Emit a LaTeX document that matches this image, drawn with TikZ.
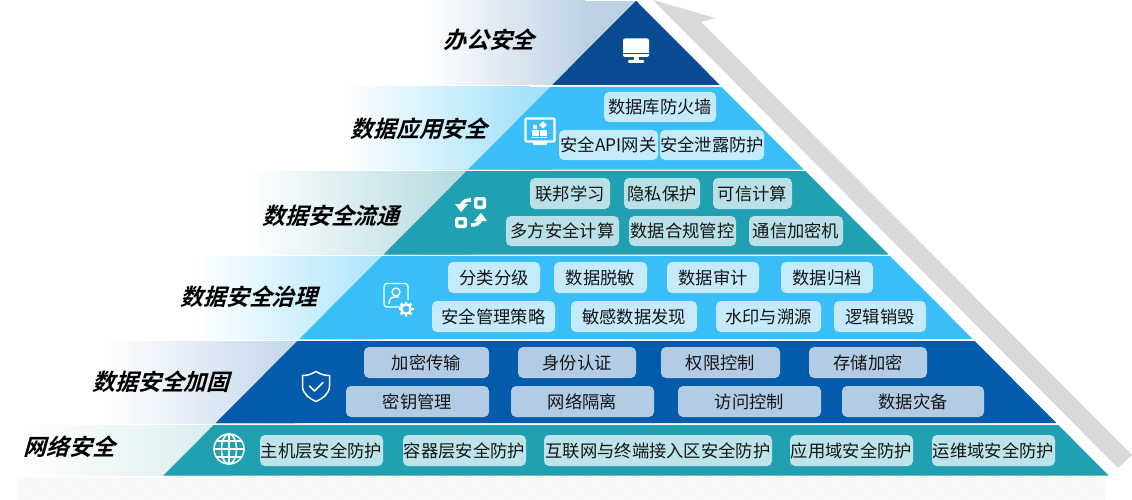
\documentclass[tikz,border=0pt]{standalone}
\usepackage{fontspec}
\setmainfont{Noto Sans CJK SC}
\newfontfamily\titlefont[FakeSlant=0.28,BoldFont={Noto Sans CJK SC Bold},BoldFeatures={FakeSlant=0.28}]{Noto Sans CJK SC}
\usetikzlibrary{patterns}
\definecolor{navy}{HTML}{0A4C92}
\definecolor{sky}{HTML}{3ABEF8}
\definecolor{teal1}{HTML}{20A0B0}
\definecolor{royal}{HTML}{045AAB}
\definecolor{chipsky}{HTML}{C4EAFC}
\definecolor{chipteal}{HTML}{B8E0E6}
\definecolor{chiproyal}{HTML}{B2CCE6}
\definecolor{chipbot}{HTML}{BDE4EA}
\definecolor{ink}{HTML}{151515}
\definecolor{fadeA}{HTML}{BFD2E4}
\definecolor{fadeB}{HTML}{A4E2FB}
\definecolor{fadeC}{HTML}{B3D9DE}
\definecolor{fadeD}{HTML}{B0E6FC}
\definecolor{fadeE}{HTML}{C4D6EA}
\definecolor{fadeF}{HTML}{D8ECEE}
\tikzset{
  chip/.style={rounded corners=5pt,inner sep=0pt,text=ink,font=\fontsize{17.3}{19}\selectfont,anchor=center},
  titletext/.style={inner sep=0pt,text=black,font=\titlefont\bfseries\fontsize{22.8}{24}\selectfont,anchor=center},
}
\newcommand{\chipbox}[7]{%
  \pgfmathsetmacro{\cx}{(#2+#3)/2}\pgfmathsetmacro{\cy}{(#4+#5)/2}%
  \pgfmathsetmacro{\cw}{#3-#2}\pgfmathsetmacro{\ch}{#5-#4}%
  \node[chip,fill=#7,minimum width=\cw pt,minimum height=\ch pt] (#1) at (\cx,\cy) {#6};}
\newcommand{\band}[6]{%
  \pgfmathsetmacro{\lt}{636-0.996*(#1-1)}\pgfmathsetmacro{\rt}{636+0.996*(#1-1)}%
  \pgfmathsetmacro{\lb}{636-0.996*(#2-1)}\pgfmathsetmacro{\rb}{636+0.996*(#2-1)}%
  \shade[left color=white,right color=#4] (#3,#1) rectangle (#6,#2);
  \fill[#4] (#6,#1) rectangle (\lt+2,#2);
  \fill[#5] (\lt,#1) -- (\rt,#1) -- (\rb,#2) -- (\lb,#2) -- cycle;}
\begin{document}
\begin{tikzpicture}[x=1pt,y=-1pt]
\useasboundingbox (0,0) rectangle (1132,500);
\fill[white] (0,0) rectangle (1132,500);
% bottom strip
\fill[black!3] (17,477) rectangle (1105,500);
\fill[pattern=north west lines,pattern color=white] (17,477) rectangle (1105,500);
% grey arrow
\fill[black!15] (653,0) -- (715,18) -- (701,22) -- (1132,455) -- (1118,468) -- cycle;
% bands
\band{1}{85}{425}{fadeA}{navy}{585}
\fill[navy] (636,1) -- (719.7,85) -- (552.3,85) -- cycle;
\band{87}{169.5}{345}{fadeB}{sky}{530}
\band{171}{254.5}{250}{fadeC}{teal1}{470}
\band{256}{339}{195}{fadeD}{sky}{375}
\band{341}{423}{105}{fadeE}{royal}{295}
\band{425}{475.5}{25}{fadeF}{teal1}{230}
% chips
\chipbox{c1}{604}{716}{92}{122}{数据库防火墙}{chipsky}
\chipbox{c2}{559}{658}{130}{160}{安全API网关}{chipsky}
\chipbox{c3}{660}{764}{130}{160}{安全泄露防护}{chipsky}
\chipbox{d1}{530}{610}{178}{209}{联邦学习}{chipteal}
\chipbox{d2}{624}{700}{178}{209}{隐私保护}{chipteal}
\chipbox{d3}{713}{792}{178}{209}{可信计算}{chipteal}
\chipbox{d4}{506}{619}{216}{246}{多方安全计算}{chipteal}
\chipbox{d5}{629}{736}{216}{246}{数据合规管控}{chipteal}
\chipbox{d6}{749}{843}{216}{246}{通信加密机}{chipteal}
\chipbox{e1}{448}{540}{262}{293}{分类分级}{chipsky}
\chipbox{e2}{554}{647}{262}{293}{数据脱敏}{chipsky}
\chipbox{e3}{667}{759}{262}{293}{数据审计}{chipsky}
\chipbox{e4}{781}{873}{262}{293}{数据归档}{chipsky}
\chipbox{e5}{432}{555}{301}{332}{安全管理策略}{chipsky}
\chipbox{e6}{571}{697}{301}{332}{敏感数据发现}{chipsky}
\chipbox{e7}{716}{821}{301}{332}{水印与溯源}{chipsky}
\chipbox{e8}{834}{926}{301}{332}{逻辑销毁}{chipsky}
\chipbox{f1}{364}{489}{347}{378}{加密传输}{chiproyal}
\chipbox{f2}{518}{636}{347}{378}{身份认证}{chiproyal}
\chipbox{f3}{661}{780}{347}{378}{权限控制}{chiproyal}
\chipbox{f4}{809}{927}{347}{378}{存储加密}{chiproyal}
\chipbox{f5}{346}{489}{386}{417}{密钥管理}{chiproyal}
\chipbox{f6}{511}{654}{386}{417}{网络隔离}{chiproyal}
\chipbox{f7}{678}{821}{386}{417}{访问控制}{chiproyal}
\chipbox{f8}{842}{984}{386}{417}{数据灾备}{chiproyal}
\chipbox{g1}{260}{383}{435}{466}{主机层安全防护}{chipbot}
\chipbox{g2}{403}{526}{435}{466}{容器层安全防护}{chipbot}
\chipbox{g3}{544}{772}{435}{466}{互联网与终端接入区安全防护}{chipbot}
\chipbox{g4}{790}{913}{435}{466}{应用域安全防护}{chipbot}
\chipbox{g5}{932}{1055}{435}{466}{运维域安全防护}{chipbot}
% titles
\node[titletext] (t1) at (489,40) {办公安全};
\node[titletext] (t2) at (419,129) {数据应用安全};
\node[titletext] (t3) at (331,216) {数据安全流通};
\node[titletext] (t4) at (249,297) {数据安全治理};
\node[titletext] (t5) at (161,382) {数据安全加固};
\node[titletext] (t6) at (69.5,447) {网络安全};
% icon: monitor
\fill[white,rounded corners=2pt] (623,38.5) rectangle (649,57);
\fill[navy] (623,53) rectangle (649,54);
\fill[white] (633.5,57) rectangle (638.5,60.5);
\fill[white,rounded corners=1pt] (628,60) rectangle (644,63);
% icon: app screen
\draw[white,line width=2.4pt,rounded corners=1pt] (525.5,118.5) rectangle (554.5,141.5);
\fill[white] (533,142) rectangle (547,145.5);
\fill[white] (532,130) rectangle (538.5,136);
\fill[white] (540,130) rectangle (546.5,136);
\fill[white] (532,137) rectangle (538.5,138.5);
\fill[white] (540,137) rectangle (546.5,138.5);
\fill[white] (533,125) rectangle (537,129);
\fill[white] (543,121.5) -- (547,125) -- (543,128.5) -- (539,125) -- cycle;
% icon: exchange
\draw[white,line width=3.4pt,rounded corners=1pt] (475.7,198.7) rectangle (484.3,207.3);
\draw[white,line width=3.4pt,rounded corners=1pt] (456.7,218.7) rectangle (465.3,226.3);
\draw[white,line width=3.6pt] (471,200) .. controls (466,200) and (463,201) .. (461,206);
\fill[white] (455,204) -- (468,204) -- (461,212) -- cycle;
\draw[white,line width=3.6pt] (471,225) .. controls (476,225) and (479,224) .. (481,219);
\fill[white] (474,221) -- (487,221) -- (481,213) -- cycle;
% icon: person + gear
\draw[white,line width=1.3pt,rounded corners=3pt] (402,307) -- (384,307) -- (384,283.5) -- (408,283.5) -- (408,300);
\draw[white,line width=1.3pt] (396,292) circle (4);
\draw[white,line width=1.3pt] (389,304) .. controls (389,298) and (392,297) .. (394,297) -- (399,297);
\draw[white,line width=2.4pt] (406,309) circle (4.8);
\foreach \a in {0,45,...,315}{\fill[white,rotate around={\a:(406,309)}] (404.6,301.5) rectangle (407.4,304);}
% icon: shield
\draw[white,line width=1.5pt,line join=round] (316,371.5) .. controls (321,374.5) and (325,375.5) .. (329.5,375.5) -- (329.5,386) .. controls (329.5,394) and (322,399) .. (316,401.5) .. controls (310,399) and (302.5,394) .. (302.5,386) -- (302.5,375.5) .. controls (307,375.5) and (311,374.5) .. (316,371.5) -- cycle;
\draw[white,line width=1.6pt,line cap=round,line join=round] (309.5,386) -- (314.5,391) -- (323,382.5);
% icon: globe
\begin{scope}[white,line width=1.5pt]
\draw (229,449) circle (15);
\draw (229,449) ellipse (7.5 and 15);
\draw (229,434) -- (229,464);
\draw (214,449) -- (244,449);
\draw (216.5,441) -- (241.5,441);
\draw (216.5,457) -- (241.5,457);
\end{scope}
\end{tikzpicture}
\end{document}
